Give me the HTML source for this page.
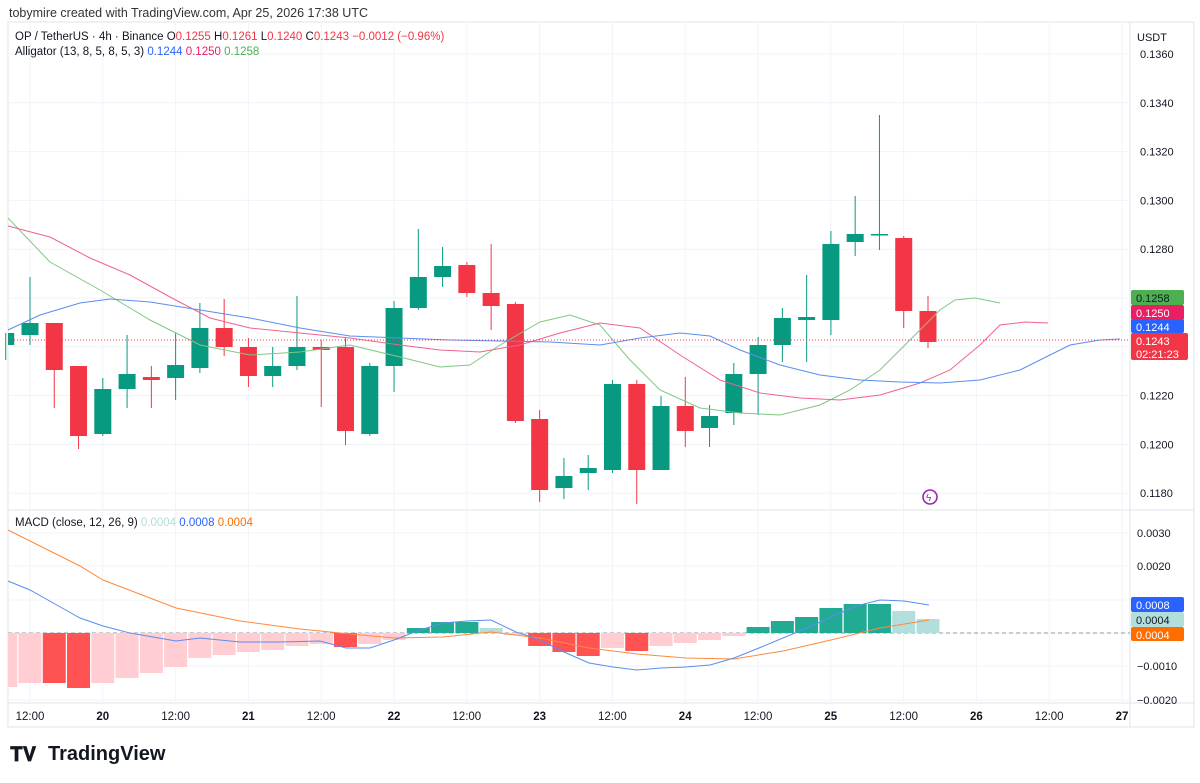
<!DOCTYPE html>
<html><head><meta charset="utf-8"><style>
body{margin:0;background:#fff;font-family:"Liberation Sans",Arial,sans-serif;}
svg text{font-family:"Liberation Sans",Arial,sans-serif;}
</style></head><body>
<svg id="s" width="1200" height="778" xmlns="http://www.w3.org/2000/svg">
<rect width="1200" height="778" fill="#fff"/>
<g id="grid"></g>
<g id="plot"></g>
<text x="9" y="17" font-size="12.5" fill="#333">tobymire created with TradingView.com, Apr 25, 2026 17:38 UTC</text>
<text x="15" y="40" font-size="11.5" fill="#131722">OP / TetherUS · 4h · Binance  O<tspan fill="#f23645">0.1255</tspan>  H<tspan fill="#f23645">0.1261</tspan>  L<tspan fill="#f23645">0.1240</tspan>  C<tspan fill="#f23645">0.1243</tspan>  <tspan fill="#f23645">−0.0012 (−0.96%)</tspan></text>
<text x="15" y="55" font-size="11.5" fill="#131722">Alligator (13, 8, 5, 8, 5, 3)  <tspan fill="#2962ff">0.1244</tspan>  <tspan fill="#e91e63">0.1250</tspan>  <tspan fill="#4caf50">0.1258</tspan></text>
<text x="15" y="526" font-size="11.5" fill="#131722">MACD (close, 12, 26, 9)  <tspan fill="#b2dfdb">0.0004</tspan>  <tspan fill="#2962ff">0.0008</tspan>  <tspan fill="#ff6d00">0.0004</tspan></text>
<text x="1137" y="41" font-size="11" fill="#131722">USDT</text>
<g font-size="28" font-weight="bold" fill="#131722"><text x="10" y="761" font-size="20">𝐓𝐕</text></g>
<text x="48" y="760" font-size="20" font-weight="bold" fill="#131722">TradingView</text>
<circle cx="930" cy="497" r="7" fill="none" stroke="#9c27b0" stroke-width="1.6"/>
<text x="926" y="501" font-size="10" fill="#9c27b0">ϟ</text>
</svg>
<script>
const NS="http://www.w3.org/2000/svg";
const g=document.getElementById('grid'),p=document.getElementById('plot');
function el(par,t,a,txt){const e=document.createElementNS(NS,t);for(const k in a)e.setAttribute(k,a[k]);if(txt!==undefined)e.textContent=txt;par.appendChild(e);return e;}
// frame
el(g,'rect',{x:8,y:22,width:1186,height:705,fill:'none',stroke:'#e0e3eb'});
el(g,'line',{x1:1130,y1:22,x2:1130,y2:727,stroke:'#e0e3eb'});
el(g,'line',{x1:8,y1:510,x2:1194,y2:510,stroke:'#e0e3eb'});
el(g,'line',{x1:8,y1:703,x2:1194,y2:703,stroke:'#e0e3eb'});
// vertical grid + time labels
const tl=["12:00","20","12:00","21","12:00","22","12:00","23","12:00","24","12:00","25","12:00","26","12:00","27"];
tl.forEach((t,i)=>{const x=30+i*72.8;el(g,'line',{x1:x,y1:22,x2:x,y2:703,stroke:'#f0f3fa'});
el(g,'text',{x:x,y:720,'font-size':11.5,'text-anchor':'middle',fill:'#131722','font-weight':(t.length==2?'bold':'normal')},t);});
// price grid
const py=v=>54+(0.136-v)/0.002*48.8;
for(let v=0.118;v<=0.1361;v+=0.002){const y=py(v);el(g,'line',{x1:8,y1:y,x2:1130,y2:y,stroke:'#f0f3fa'});
el(g,'text',{x:1140,y:y+4,'font-size':11,fill:'#131722'},v.toFixed(4));}
// macd grid
[[0.003,533],[0.002,566],[0.001,600],[0,633],[-0.001,666],[-0.002,700]].forEach(([v,y])=>{el(g,'line',{x1:8,y1:y,x2:1130,y2:y,stroke:'#f0f3fa'});
if(v!==0&&v!==0.001)el(g,'text',{x:1137,y:y+4,'font-size':11,fill:'#131722'},(v<0?'−':'')+Math.abs(v).toFixed(4));});
el(g,'line',{x1:8,y1:633,x2:1130,y2:633,stroke:'#9598a1','stroke-dasharray':'4 3'});
// candles [openY,closeY,highY,lowY]
const C=[[345,333,333,360],[335,323,277,345],[323,370,323,408],[366,436,366,449],[434,389,378,436],[389,374,335,408],[377,380,366,408],[378,365,333,400],[368,328,303,373],[328,347,299,356],[347,376,338,387],[376,366,347,387],[366,347,296,370],[347,350,340,407],[347,431,338,445],[434,366,363,436],[366,308,301,392],[308,277,229,310],[277,266,247,287],[265,293,262,297],[293,306,244,330],[304,421,302,423],[419,490,410,502],[488,476,458,499],[473,468,455,490],[470,384,380,473],[384,470,380,504],[470,406,396,470],[406,431,377,447],[428,416,405,447],[413,374,363,425],[374,345,337,415],[345,318,308,362],[320,317,275,362],[320,244,231,335],[242,234,196,256],[235,234,115,250],[238,311,236,328],[311,342,296,348]];
C.forEach((c,i)=>{const x=30+(i-1)*24.27;const up=c[1]<c[0];const col=up?'#089981':'#f23645';
el(p,'line',{x1:x,y1:c[2],x2:x,y2:c[3],stroke:col});
const t=Math.min(c[0],c[1]),h=Math.max(1.5,Math.abs(c[0]-c[1]));
el(p,'rect',{x:Math.max(8,x-8.5),y:t,width:x-8.5<8?x+8.5-8:17,height:h,fill:col});});
function pl(pts,col,w){el(p,'polyline',{points:pts.map(a=>a.join(',')).join(' '),fill:'none',stroke:col,'stroke-width':w||1});}
pl([[8,218],[50,262],[100,290],[150,320],[200,345],[250,355],[300,352],[350,345],[400,357],[440,367],[470,365],[500,345],[540,322],[570,315],[600,325],[630,360],[660,390],[700,408],[740,413],[780,415],[820,405],[850,390],[880,370],[910,340],[940,310],[955,300],[975,298],[1000,303]],'#81c784');
pl([[8,226],[50,237],[90,258],[130,275],[170,297],[210,318],[250,328],[300,333],[350,338],[400,345],[440,350],[480,352],[520,345],[560,333],[600,323],[640,328],[680,355],[720,380],[760,393],[800,398],[840,400],[880,395],[920,383],[950,370],[980,345],[1000,325],[1025,322],[1048,323]],'#f06292');
pl([[8,330],[40,315],[80,303],[110,299],[150,302],[200,310],[250,318],[300,328],[350,336],[400,338],[450,340],[500,341],[550,342],[600,345],[640,338],[680,333],[710,336],[740,350],[780,365],[820,375],[860,380],[900,382],[940,383],[980,380],[1020,370],[1050,355],[1070,345],[1100,340],[1120,339]],'#5b8def');
el(p,'line',{x1:8,y1:340,x2:1130,y2:340,stroke:'#f23645','stroke-dasharray':'1 2'});
// histogram
const H=[687,683,683,688,683,678,673,667,658,655,652,650,646,644,647,644,640,628,622,622,628,635,646,652,656,648,651,646,643,640,636,627,621,617,608,604,604,611,619];
const dark=new Set([2,3,14,18,19,22,23,24,26,31,32,33,34,35,36]);
H.forEach((y,i)=>{const x=30+(i-1)*24.27;let col;
if(y>633){col=dark.has(i)?'#ff5252':'#ffcdd2';}else{col=(i==20||i==37||i==38)?'#b2dfdb':'#22ab94';}
const l=Math.max(8,x-11.5),r=x+11.5;el(p,'rect',{x:l,y:Math.min(y,633),width:r-l,height:Math.abs(y-633),fill:col});});
pl([[8,530],[40,546],[80,566],[103,580],[150,598],[176,608],[240,621],[300,629],[340,633],[394,638],[443,637],[491,632],[540,638],[589,648],[637,654],[686,658],[734,659],[783,651],[831,640],[880,628],[929,620]],'#ff8a3d');
pl([[8,581],[30,590],[55,604],[80,618],[103,626],[130,633],[176,641],[200,638],[240,642],[280,642],[320,641],[346,648],[370,648],[394,640],[420,630],[443,623],[467,621],[491,620],[516,632],[540,640],[564,652],[589,663],[613,667],[637,670],[661,668],[686,667],[710,665],[734,658],[759,648],[783,638],[807,628],[831,617],[856,606],[880,600],[904,601],[929,605]],'#5b8def');
// labels
function lab(y,h,bg,fg,txt,txt2){el(p,'rect',{x:1131,y:y,width:h>16?57:53,height:h,rx:2,fill:bg});el(p,'text',{x:1136,y:y+12,'font-size':11,fill:fg},txt);if(txt2)el(p,'text',{x:1136,y:y+25,'font-size':11,fill:fg},txt2);}
lab(290,15,'#4caf50','#131722','0.1258');lab(305,15,'#e91e63','#fff','0.1250');lab(319,14,'#2962ff','#fff','0.1244');lab(333,27,'#f23645','#fff','0.1243','02:21:23');
lab(597,15,'#2962ff','#fff','0.0008');lab(612,15,'#b2dfdb','#131722','0.0004');lab(627,14,'#ff6d00','#fff','0.0004');
</script>
</body></html>
